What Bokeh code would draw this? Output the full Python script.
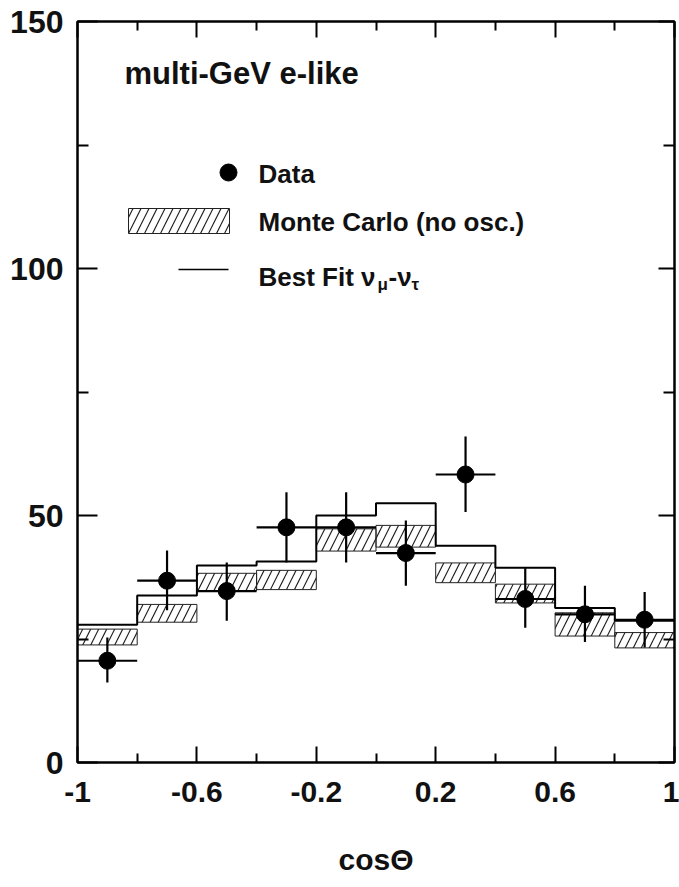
from bokeh.plotting import figure
from bokeh.models import Range1d, FixedTicker, LinearAxis, Label
from bokeh.embed import file_html
from bokeh.resources import INLINE

# ---------------- data ----------------
bin_edges = [-1.0, -0.8, -0.6, -0.4, -0.2, 0.0, 0.2, 0.4, 0.6, 0.8, 1.0]
bin_centers = [-0.9, -0.7, -0.5, -0.3, -0.1, 0.1, 0.3, 0.5, 0.7, 0.9]

data_counts = [20.6, 36.8, 34.7, 47.6, 47.6, 42.4, 58.3, 33.1, 30.0, 28.9]
data_err_hi = [25.3, 42.9, 40.5, 54.7, 54.7, 49.0, 66.0, 39.3, 35.8, 34.5]
data_err_lo = [16.2, 30.8, 28.7, 40.5, 40.5, 35.8, 50.7, 27.3, 24.4, 23.3]

mc_low = [23.8, 28.4, 34.8, 35.0, 42.8, 43.6, 36.4, 32.3, 25.6, 23.2]
mc_high = [27.0, 32.0, 38.3, 38.9, 47.3, 48.0, 40.4, 36.1, 30.3, 26.3]

best_fit = [27.9, 33.8, 39.9, 40.7, 50.0, 52.5, 43.9, 39.4, 31.3, 28.7]

x_major_ticks = [-1.0, -0.6, -0.2, 0.2, 0.6, 1.0]
x_tick_labels = ["-1", "-0.6", "-0.2", "0.2", "0.6", "1"]
x_minor_ticks = [-0.8, -0.4, 0.0, 0.4, 0.8]
y_major_ticks = [0, 50, 100, 150]
y_minor_ticks = [25, 75, 125]

# ---------------- layout ----------------
FW, FH = 597, 741
BL, BR, BT, BB = 77, 5, 21, 125
FONT = "Liberation Sans"

p = figure(frame_width=FW, frame_height=FH,
           x_range=Range1d(-1, 1), y_range=Range1d(0, 150),
           output_backend="svg", toolbar_location=None,
           min_border_left=BL, min_border_right=BR,
           min_border_top=BT, min_border_bottom=BB,
           x_axis_location=None, y_axis_location=None)
p.grid.visible = False
p.outline_line_color = "black"
p.outline_line_width = 2
p.background_fill_color = "white"
p.border_fill_color = "white"

xt = FixedTicker(ticks=x_major_ticks, minor_ticks=x_minor_ticks)
yt = FixedTicker(ticks=y_major_ticks, minor_ticks=y_minor_ticks)


def style_axis(ax, major_len, minor_len, show_labels):
    ax.axis_line_width = 2
    ax.axis_line_color = "black"
    ax.major_tick_in = major_len
    ax.major_tick_out = 0
    ax.minor_tick_in = minor_len
    ax.minor_tick_out = 0
    ax.major_tick_line_width = 2
    ax.minor_tick_line_width = 2
    ax.major_tick_line_color = "black"
    ax.minor_tick_line_color = "black"
    if not show_labels:
        ax.major_label_text_font_size = "0px"
        ax.major_label_standoff = 0
        ax.major_label_text_alpha = 0


xb = LinearAxis(ticker=xt)
style_axis(xb, 16, 9, True)
xb.major_label_overrides = {v: s for v, s in zip(x_major_ticks, x_tick_labels)}
xb.major_label_text_font = FONT
xb.major_label_text_font_size = "30px"
xb.major_label_text_font_style = "bold"
xb.major_label_text_color = "#111111"
xb.major_label_standoff = 19
xb.axis_label = "cosΘ"
xb.axis_label_text_font = FONT
xb.axis_label_text_font_size = "30px"
xb.axis_label_text_font_style = "bold"
xb.axis_label_text_color = "#111111"
xb.axis_label_standoff = 38
p.add_layout(xb, "below")

xtop = LinearAxis(ticker=xt)
style_axis(xtop, 16, 9, False)
p.add_layout(xtop, "above")

yl = LinearAxis(ticker=yt)
style_axis(yl, 20, 11, True)
yl.major_label_text_font = FONT
yl.major_label_text_font_size = "32px"
yl.major_label_text_font_style = "bold"
yl.major_label_text_color = "#111111"
yl.major_label_standoff = 14
p.add_layout(yl, "left")

yr = LinearAxis(ticker=yt)
style_axis(yr, 16, 11, False)
p.add_layout(yr, "right")

# ---------------- marks ----------------
# Monte Carlo hatched band
p.quad(left=bin_edges[:-1], right=bin_edges[1:], bottom=mc_low, top=mc_high,
       fill_color=None, line_color="#222222", line_width=1,
       hatch_pattern="/", hatch_color="#222222", hatch_scale=16, hatch_weight=1.2)

# Best fit step histogram
p.step(x=bin_edges, y=best_fit + [best_fit[-1]], mode="after",
       line_color="black", line_width=2)

# Data with error bars
p.segment(x0=bin_edges[:-1], x1=bin_edges[1:], y0=data_counts, y1=data_counts,
          line_color="black", line_width=2.2)
p.segment(x0=bin_centers, x1=bin_centers, y0=data_err_lo, y1=data_err_hi,
          line_color="black", line_width=2.2)
p.scatter(x=bin_centers, y=data_counts, size=17, marker="circle",
          fill_color="black", line_color="black")

# ---------------- legend & annotations (page pixel layout) ----------------
X0, X1, Y0, Y1 = 77, 77 + FW, 21 + FH, 21


def px2x(px):
    return -1 + 2.0 * (px - X0) / (X1 - X0)


def px2y(py):
    return 150.0 * (Y0 - py) / (Y0 - Y1)


p.add_layout(Label(x=px2x(124), y=px2y(73), text="multi-GeV e-like",
                   text_font=FONT, text_font_size="31px", text_font_style="bold",
                   text_color="#111111",
                   text_baseline="alphabetic", text_align="left"))

LEG_FS = "26px"
# Data entry
p.scatter(x=[px2x(228)], y=[px2y(172)], size=17, marker="circle",
          fill_color="black", line_color="black")
p.add_layout(Label(x=px2x(258), y=px2y(173), text="Data", text_font=FONT,
                   text_font_size=LEG_FS, text_font_style="bold",
                   text_baseline="middle", text_color="#111111"))
# Monte Carlo entry
p.quad(left=[px2x(128)], right=[px2x(229)], bottom=[px2y(233)], top=[px2y(208)],
       fill_color=None, line_color="#222222", line_width=1,
       hatch_pattern="/", hatch_color="#222222", hatch_scale=16, hatch_weight=1.2)
p.add_layout(Label(x=px2x(258), y=px2y(221), text="Monte Carlo (no osc.)",
                   text_font=FONT, text_font_size=LEG_FS, text_font_style="bold",
                   text_baseline="middle", text_color="#111111"))
# Best fit entry
p.segment(x0=[px2x(178)], x1=[px2x(228)], y0=[px2y(269)], y1=[px2y(269)],
          line_color="black", line_width=1.5)
base_y = px2y(276)
sub_y = px2y(284)
p.add_layout(Label(x=px2x(258), y=base_y, text="Best Fit ν", text_font=FONT,
                   text_font_size=LEG_FS, text_font_style="bold",
                   text_baseline="alphabetic", text_color="#111111"))
p.add_layout(Label(x=px2x(377), y=sub_y, text="μ", text_font=FONT,
                   text_font_size="17px", text_font_style="bold",
                   text_baseline="alphabetic", text_color="#111111"))
p.add_layout(Label(x=px2x(388), y=base_y, text="-ν", text_font=FONT,
                   text_font_size=LEG_FS, text_font_style="bold",
                   text_baseline="alphabetic", text_color="#111111"))
p.add_layout(Label(x=px2x(411), y=sub_y, text="τ", text_font=FONT,
                   text_font_size="17px", text_font_style="bold",
                   text_baseline="alphabetic", text_color="#111111"))

open("out.html", "w").write(file_html(p, INLINE))
